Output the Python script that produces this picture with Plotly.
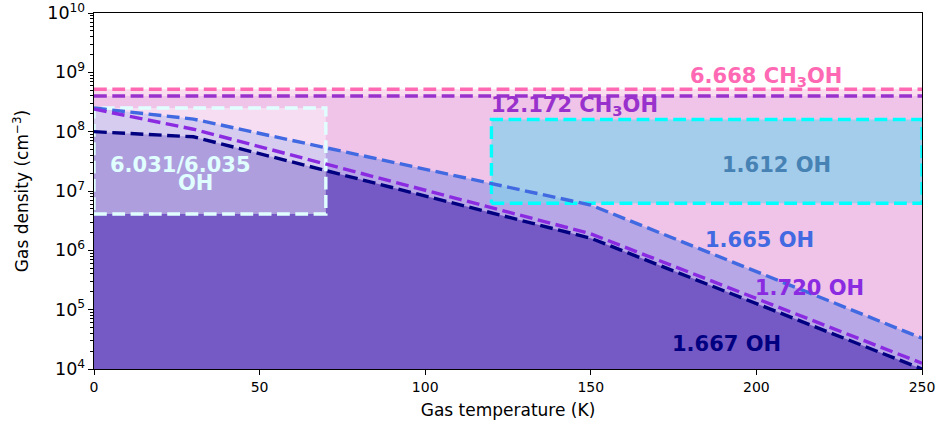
import math
import plotly.graph_objects as go

# ---- data ----
T_nodes = [0, 30, 150, 250]
oh1665 = [2.5e8, 1.63e8, 5.8e6, 3.3e4]
oh1720 = [2.4e8, 1.1e8, 1.9e6, 1.25e4]
oh1667 = [1.0e8, 8.2e7, 1.6e6, 1.0e4]
ch3oh_6668 = 5.2e8
ch3oh_12172 = 4.0e8
box_6031_T = [0, 70]
box_6031_n = [4.1e6, 2.5e8]
box_1612_T = [120, 250]
box_1612_n = [6.2e6, 1.6e8]
T_range = [0, 250]
n_floor = 1e4
x_ticks = [0, 50, 100, 150, 200, 250]

labels = [
    ("6.668 CH<sub>3</sub>OH", 203, 8.3e8, "#ff69b4"),
    ("12.172 CH<sub>3</sub>OH", 145, 2.75e8, "#9932cc"),
    ("6.031/6.035", 26, 2.7e7, "#e0ffff"),
    ("OH", 30.5, 1.38e7, "#e0ffff"),
    ("1.612 OH", 206, 2.75e7, "#4682b4"),
    ("1.665 OH", 201, 1.5e6, "#4169e1"),
    ("1.720 OH", 216, 2.3e5, "#8a2be2"),
    ("1.667 OH", 191, 2.6e4, "#000080"),
]

DASH = "12.8px,5.5px"
LW = 3.4

fig = go.Figure()

def band(top, color):
    fig.add_trace(go.Scatter(
        x=[T_range[0], T_range[1], T_range[1], T_range[0], T_range[0]],
        y=[n_floor, n_floor, top, top, n_floor],
        mode="lines", fill="toself", fillcolor=color,
        line=dict(width=0), hoverinfo="skip", showlegend=False))

def under(curve, color):
    xs = [T_nodes[0]] + T_nodes + [T_nodes[-1], T_nodes[0]]
    ys = [n_floor] + curve + [n_floor, n_floor]
    fig.add_trace(go.Scatter(x=xs, y=ys, mode="lines", fill="toself",
                             fillcolor=color, line=dict(width=0),
                             hoverinfo="skip", showlegend=False))

def box(Ts, ns, fillc, linec):
    fig.add_trace(go.Scatter(
        x=[Ts[0], Ts[1], Ts[1], Ts[0], Ts[0]],
        y=[ns[0], ns[0], ns[1], ns[1], ns[0]],
        mode="lines", fill="toself", fillcolor=fillc,
        line=dict(color=linec, width=LW, dash=DASH),
        hoverinfo="skip", showlegend=False))

band(ch3oh_6668, "#fadcef")
band(ch3oh_12172, "#efc4e8")
under(oh1665, "#b8a7e6")
under(oh1667, "#7559c4")
box(box_6031_T, box_6031_n, "rgba(255,255,255,0.42)", "#e0ffff")
box(box_1612_T, box_1612_n, "rgba(135,206,235,0.72)", "#00ffff")

for val, col in [(ch3oh_6668, "#ff69b4"), (ch3oh_12172, "#9932cc")]:
    fig.add_trace(go.Scatter(x=T_range, y=[val, val], mode="lines",
                             line=dict(color=col, width=LW, dash=DASH),
                             hoverinfo="skip", showlegend=False))

for curve, col in [(oh1665, "#4169e1"), (oh1720, "#8a2be2"), (oh1667, "#000080")]:
    fig.add_trace(go.Scatter(x=T_nodes, y=curve, mode="lines",
                             line=dict(color=col, width=LW, dash=DASH),
                             hoverinfo="skip", showlegend=False))

for txt, x, y, col in labels:
    fig.add_annotation(x=x, y=math.log10(y), text="<b>" + txt + "</b>",
                       showarrow=False, font=dict(family="DejaVu Sans", size=21, color=col),
                       xanchor="center", yanchor="middle")

fig.update_layout(
    width=939, height=428,
    margin=dict(l=94, r=17, t=13, b=59),
    paper_bgcolor="white", plot_bgcolor="white",
    font=dict(family="DejaVu Sans", size=14, color="black"),
)
fig.update_xaxes(range=T_range, tickvals=x_ticks, ticks="outside", ticklen=5,
                 tickwidth=1.1, tickcolor="black", showline=True, linecolor="black",
                 linewidth=1.1, mirror=True, showgrid=False, zeroline=False,
                 automargin=False,
                 title=dict(text="Gas temperature (K)", standoff=10))
fig.update_yaxes(type="log", range=[4, 10], dtick=1, exponentformat="power",
                 ticks="outside", ticklen=5, tickwidth=1.1, tickcolor="black",
                 showline=True, linecolor="black", linewidth=1.1, mirror=True,
                 showgrid=False, zeroline=False, automargin=False,
                 minor=dict(ticks="outside", ticklen=3, tickcolor="black", showgrid=False),
                 title=dict(text="Gas density (cm<sup>−3</sup>)", standoff=14))

fig.write_html("out.html")
